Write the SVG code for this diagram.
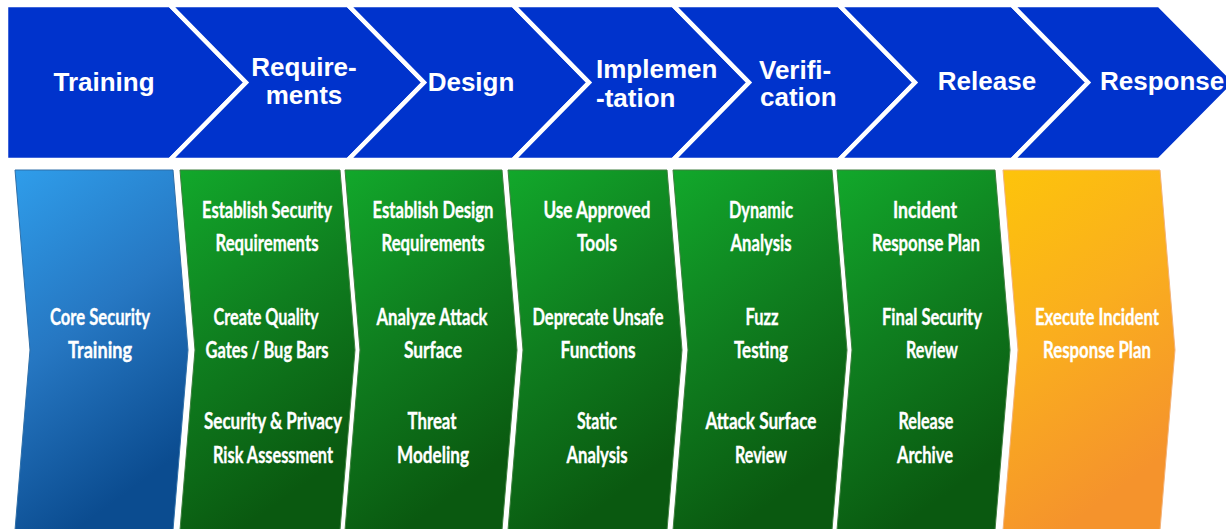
<svg xmlns="http://www.w3.org/2000/svg" width="1226" height="529" viewBox="0 0 1226 529">
  <style>
    .phase { fill: #0033CC; stroke: #FFFFFF; stroke-width: 4.5; stroke-linejoin: miter; }
    .phase-label { font-family: "Liberation Sans", Arial, sans-serif; font-weight: 700; font-size: 26px; fill: #FFFFFF; }
    .lane-blue { fill: url(#gBlue); stroke: #2F6FA8; stroke-width: 1; }
    .lane-green { fill: url(#gGreen); stroke: #3F7F3F; stroke-width: 1; }
    .lane-orange { fill: url(#gOrange); stroke: #F2B27A; stroke-width: 1; }
    .task { font-family: Lato, "Open Sans", sans-serif; font-weight: 700; font-size: 23px; fill: #FFFFFF; stroke: #FFFFFF; stroke-width: 0.35; text-anchor: middle; }
  </style>
  <defs>
    <linearGradient id="gBlue" x1="0" y1="0" x2="0.35" y2="1">
      <stop offset="0" stop-color="#2F9DEA"/>
      <stop offset="0.5" stop-color="#2677C2"/>
      <stop offset="1" stop-color="#0B4C90"/>
    </linearGradient>
    <linearGradient id="gGreen" x1="0" y1="0" x2="0.35" y2="1">
      <stop offset="0" stop-color="#12A82B"/>
      <stop offset="0.5" stop-color="#0F7E1F"/>
      <stop offset="1" stop-color="#0A5910"/>
    </linearGradient>
    <linearGradient id="gOrange" x1="0" y1="0" x2="0.35" y2="1">
      <stop offset="0" stop-color="#FDC40B"/>
      <stop offset="0.5" stop-color="#FAAE1E"/>
      <stop offset="1" stop-color="#F5932C"/>
    </linearGradient>
  </defs>

  <rect x="0" y="0" width="1226" height="529" fill="#FFFFFF"/>

  <!-- phase chevrons -->
  <g id="phase-training">
    <polygon class="phase" points="6,5 170,5 246,82.5 170,160 6,160"/>
    <text class="phase-label" x="104" y="91" text-anchor="middle">Training</text>
  </g>
  <g id="phase-requirements">
    <polygon class="phase" points="170,5 348,5 424,82.5 348,160 170,160 246,82.5"/>
    <text class="phase-label" x="304" y="76" text-anchor="middle">Require-</text>
    <text class="phase-label" x="304" y="104" text-anchor="middle">ments</text>
  </g>
  <g id="phase-design">
    <polygon class="phase" points="348,5 513,5 589,82.5 513,160 348,160 424,82.5"/>
    <text class="phase-label" x="471" y="91" text-anchor="middle">Design</text>
  </g>
  <g id="phase-implementation">
    <polygon class="phase" points="513,5 673,5 749,82.5 673,160 513,160 589,82.5"/>
    <text class="phase-label" x="596" y="78">Implemen</text>
    <text class="phase-label" x="596" y="107">-tation</text>
  </g>
  <g id="phase-verification">
    <polygon class="phase" points="673,5 839,5 915,82.5 839,160 673,160 749,82.5"/>
    <text class="phase-label" x="759" y="79">Verifi-</text>
    <text class="phase-label" x="760" y="106">cation</text>
  </g>
  <g id="phase-release">
    <polygon class="phase" points="839,5 1012,5 1088,82.5 1012,160 839,160 915,82.5"/>
    <text class="phase-label" x="987" y="90" text-anchor="middle">Release</text>
  </g>
  <g id="phase-response">
    <polygon class="phase" points="1012,5 1159,5 1236,82.5 1159,160 1012,160 1088,82.5"/>
    <text class="phase-label" x="1100" y="90">Response</text>
  </g>

  <!-- activity lanes -->
  <g id="lane-training">
    <polygon class="lane-blue" points="15,170 173,170 188,350 173,530 15,530 30,350"/>
    <text class="task" x="100" y="325" textLength="100" lengthAdjust="spacingAndGlyphs">Core Security</text>
    <text class="task" x="100" y="358" textLength="64" lengthAdjust="spacingAndGlyphs">Training</text>
  </g>
  <g id="lane-requirements">
    <polygon class="lane-green" points="180,170 340,170 355,350 340,530 180,530 195,350"/>
    <text class="task" x="267" y="218" textLength="130" lengthAdjust="spacingAndGlyphs">Establish Security</text>
    <text class="task" x="267" y="251" textLength="103" lengthAdjust="spacingAndGlyphs">Requirements</text>
    <text class="task" x="266" y="325" textLength="105" lengthAdjust="spacingAndGlyphs">Create Quality</text>
    <text class="task" x="267" y="358" textLength="123" lengthAdjust="spacingAndGlyphs">Gates / Bug Bars</text>
    <text class="task" x="273" y="429" textLength="138" lengthAdjust="spacingAndGlyphs">Security &amp; Privacy</text>
    <text class="task" x="273" y="463" textLength="120" lengthAdjust="spacingAndGlyphs">Risk Assessment</text>
  </g>
  <g id="lane-design">
    <polygon class="lane-green" points="345,170 502,170 517,350 502,530 345,530 360,350"/>
    <text class="task" x="433" y="218" textLength="121" lengthAdjust="spacingAndGlyphs">Establish  Design</text>
    <text class="task" x="433" y="251" textLength="103" lengthAdjust="spacingAndGlyphs">Requirements</text>
    <text class="task" x="432" y="325" textLength="111" lengthAdjust="spacingAndGlyphs">Analyze Attack</text>
    <text class="task" x="433" y="358" textLength="58" lengthAdjust="spacingAndGlyphs">Surface</text>
    <text class="task" x="432" y="429" textLength="49" lengthAdjust="spacingAndGlyphs">Threat</text>
    <text class="task" x="433" y="463" textLength="72" lengthAdjust="spacingAndGlyphs">Modeling</text>
  </g>
  <g id="lane-implementation">
    <polygon class="lane-green" points="508,170 667,170 682,350 667,530 508,530 523,350"/>
    <text class="task" x="597" y="218" textLength="107" lengthAdjust="spacingAndGlyphs">Use Approved</text>
    <text class="task" x="597" y="251" textLength="40" lengthAdjust="spacingAndGlyphs">Tools</text>
    <text class="task" x="598" y="325" textLength="131" lengthAdjust="spacingAndGlyphs">Deprecate Unsafe</text>
    <text class="task" x="598" y="358" textLength="75" lengthAdjust="spacingAndGlyphs">Functions</text>
    <text class="task" x="597" y="429" textLength="40" lengthAdjust="spacingAndGlyphs">Static</text>
    <text class="task" x="597" y="463" textLength="61" lengthAdjust="spacingAndGlyphs">Analysis</text>
  </g>
  <g id="lane-verification">
    <polygon class="lane-green" points="673,170 832,170 847,350 832,530 673,530 688,350"/>
    <text class="task" x="761" y="218" textLength="64" lengthAdjust="spacingAndGlyphs">Dynamic</text>
    <text class="task" x="761" y="251" textLength="61" lengthAdjust="spacingAndGlyphs">Analysis</text>
    <text class="task" x="762" y="325" textLength="33" lengthAdjust="spacingAndGlyphs">Fuzz</text>
    <text class="task" x="761" y="358" textLength="54" lengthAdjust="spacingAndGlyphs">Testing</text>
    <text class="task" x="761" y="429" textLength="111" lengthAdjust="spacingAndGlyphs">Attack Surface</text>
    <text class="task" x="761" y="463" textLength="52" lengthAdjust="spacingAndGlyphs">Review</text>
  </g>
  <g id="lane-release">
    <polygon class="lane-green" points="837,170 995,170 1010,350 995,530 837,530 852,350"/>
    <text class="task" x="925" y="218" textLength="64" lengthAdjust="spacingAndGlyphs">Incident</text>
    <text class="task" x="926" y="251" textLength="108" lengthAdjust="spacingAndGlyphs">Response Plan</text>
    <text class="task" x="932" y="325" textLength="100" lengthAdjust="spacingAndGlyphs">Final Security</text>
    <text class="task" x="932" y="358" textLength="52" lengthAdjust="spacingAndGlyphs">Review</text>
    <text class="task" x="926" y="429" textLength="55" lengthAdjust="spacingAndGlyphs">Release</text>
    <text class="task" x="925" y="463" textLength="56" lengthAdjust="spacingAndGlyphs">Archive</text>
  </g>
  <g id="lane-response">
    <polygon class="lane-orange" points="1003,170 1160,170 1175,350 1160,530 1003,530 1018,350"/>
    <text class="task" x="1097" y="325" textLength="124" lengthAdjust="spacingAndGlyphs">Execute Incident</text>
    <text class="task" x="1097" y="358" textLength="108" lengthAdjust="spacingAndGlyphs">Response Plan</text>
  </g>
</svg>
